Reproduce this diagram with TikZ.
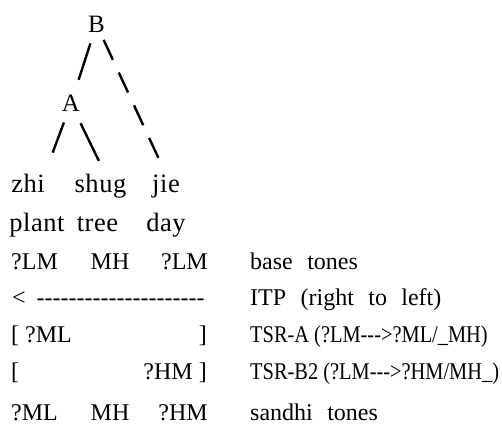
\documentclass[tikz,border=0pt]{standalone}
\usepackage{fontspec}
\setmainfont{Liberation Serif}[Ligatures=TeXOff]
\usepackage{graphicx}
\usetikzlibrary{calc}

\begin{document}
\begin{tikzpicture}[x=1pt,y=-1pt]
	\tikzstyle{lbl}=[inner sep=0pt,font=\fontsize{24}{28}\selectfont]
	\tikzstyle{word}=[lbl,anchor=base]
	\tikzstyle{gloss}=[word,font=\fontsize{26.5}{30}\selectfont\addfontfeature{LetterSpace=2}]
	\tikzstyle{colL}=[lbl,anchor=base west]
	\tikzstyle{colE}=[lbl,anchor=base east]
	\tikzstyle{note}=[lbl,anchor=base west,execute at begin node={\spaceskip=0.6em plus 0.1em}]
	\tikzstyle{branch}=[line width=2.4pt]
	\tikzstyle{longdash}=[branch,dash pattern=on 22pt off 14pt]

	\newcommand{\narrow}[1]{\scalebox{0.85}[1]{#1}}

	\useasboundingbox (0,0) rectangle (502,428);

	\node (B) [lbl,font=\fontsize{25}{28}\selectfont] at (96.5,24.5) {B};
	\node (A) [lbl,font=\fontsize{25}{28}\selectfont] at (71,103.5) {A};

	\node (zhi) [gloss] at (28,192) {zhi};
	\node (shug) [gloss] at (100.5,192) {shug};
	\node (jie) [gloss] at (166,192) {jie};

	\draw [branch, shorten <=11pt, shorten >=16pt] (B) -- (A);
	\draw [branch, shorten <=11.2pt, shorten >=22.2pt] (A) -- (zhi.north east);
	\draw [branch, shorten <=12.6pt, shorten >=13.8pt] (A) -- (shug.70);
	\draw [longdash, shorten <=7.7pt, shorten >=17.3pt] (B) -- (jie.north);

	\node (plant) [gloss] at (37,231) {plant};
	\node (tree) [gloss] at (97.5,231) {tree};
	\node (day) [gloss] at (166,231) {day};

	\node (baseL) [colL] at (11,269) {?LM};
	\node (baseM) [word] at (110,269) {MH};
	\node (baseR) [colE] at (208,269) {?LM};
	\node (itp) [colL] at (12,305) {<\hspace{11pt}---------------------};
	\node (tsraL) [colL] at (11,342) {[ ?ML};
	\node (tsraR) [colE] at (207,342) {]};
	\node (tsrbL) [colL] at (11,379) {[};
	\node (tsrbR) [colE] at (207,379) {?HM ]};
	\node (sanL) [colL] at (11,420) {?ML};
	\node (sanM) [word] at (110,420) {MH};
	\node (sanR) [colE] at (208,420) {?HM};

	\node (baseN) [note] at (250,269) {base tones};
	\node (itpN) [note] at (250,305) {ITP (right to left)};
	\node (tsraN) [colL] at (250,342) {\narrow{TSR-A (?LM--->?ML/\_MH)}};
	\node (tsrbN) [colL] at (250,379) {\narrow{TSR-B2 (?LM--->?HM/MH\_)}};
	\node (sanN) [note] at (250,420) {sandhi tones};
\end{tikzpicture}
\end{document}
